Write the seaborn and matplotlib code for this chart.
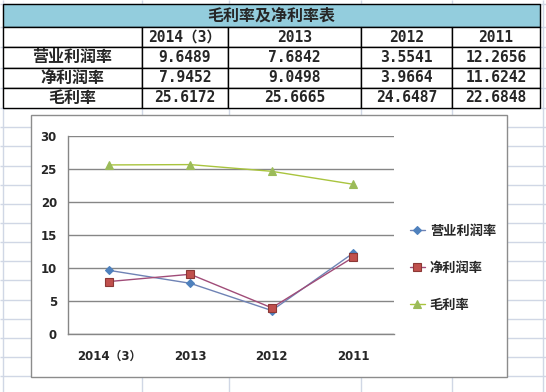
import numpy as np
import pandas as pd
import seaborn as sns
import matplotlib.pyplot as plt
from matplotlib.patches import Rectangle
from matplotlib.ticker import FixedLocator

# Data
TITLE = "毛利率及净利率表"
PERIODS = ["2014（3）", "2013", "2012", "2011"]
SERIES = ["营业利润率", "净利润率", "毛利率"]
OP_MARGIN = [9.6489, 7.6842, 3.5541, 12.2656]
NET_MARGIN = [7.9452, 9.0498, 3.9664, 11.6242]
GROSS_MARGIN = [25.6172, 25.6665, 24.6487, 22.6848]

# Styling
LINE_COLORS = ["#6F83B5", "#A04C78", "#A9C43E"]
FACE_COLORS = ["#4F81BD", "#C0504D", "#9BBB59"]
EDGE_COLORS = ["#4F81BD", "#8C3836", "#9BBB59"]
MARKERS = ["D", "s", "^"]
MARKER_SIZES = [4.5, 6.0, 6.0]
GRID = "#868686"
SHEET = "#D0D7E5"
CJK = ["Noto Sans CJK SC", "DejaVu Sans"]
NUM = ["DejaVu Sans", "Noto Sans CJK SC"]
MONO = ["DejaVu Sans Mono", "Noto Sans CJK SC"]

# Layout (pixels)
W, H = 546, 392
TABLE_X = [3, 142, 228, 361, 452, 540]
TABLE_Y = [4, 27, 108]
SHEET_X = [3, 142, 229, 361, 452, 543]
SHEET_Y = [4, 27, 47, 68, 88, 108] + list(np.arange(127.2, H, 19.15))

sns.set_style("white")
plt.rcParams["font.family"] = CJK

fig = plt.figure(figsize=(W / 100, H / 100), dpi=100)
fig.patch.set_facecolor("white")

# background layer in pixel coordinates: sheet grid, table, chart frame
bg = fig.add_axes([0, 0, 1, 1], zorder=-1)
bg.set_xlim(0, W)
bg.set_ylim(H, 0)
bg.axis("off")
bg.vlines(SHEET_X, 0, H, color=SHEET, lw=1, zorder=0)
bg.hlines(SHEET_Y, 0, W, color=SHEET, lw=1, zorder=0)

# title row
bg.add_patch(Rectangle((TABLE_X[0], TABLE_Y[0]), TABLE_X[-1] - TABLE_X[0],
                       TABLE_Y[1] - TABLE_Y[0], facecolor="#93CDDD",
                       edgecolor="black", lw=1, zorder=2))
bg.text((TABLE_X[0] + TABLE_X[-1]) / 2, (TABLE_Y[0] + TABLE_Y[1]) / 2 + 0.5,
        TITLE, ha="center", va="center", fontsize=11.5, fontweight="bold",
        family=CJK, zorder=3)

cell_text = [[""] + PERIODS]
for name, vals in zip(SERIES, [OP_MARGIN, NET_MARGIN, GROSS_MARGIN]):
    cell_text.append([name] + [f"{v:.4f}" for v in vals])

widths = np.diff(TABLE_X)
tbl = bg.table(
    cellText=cell_text,
    cellLoc="center",
    colWidths=list(widths / widths.sum()),
    bbox=[TABLE_X[0] / W, 1 - TABLE_Y[2] / H,
          (TABLE_X[-1] - TABLE_X[0]) / W, (TABLE_Y[2] - TABLE_Y[1]) / H],
    zorder=2,
)
tbl.auto_set_font_size(False)
for (r, c), cell in tbl.get_celld().items():
    cell.set_edgecolor("black")
    cell.set_linewidth(1)
    cell.set_facecolor("white")
    if c == 0:
        cell.set_text_props(fontsize=11.5, fontweight="bold", family=CJK)
    else:
        cell.set_text_props(fontsize=10.5, fontweight="bold", family=MONO)

# chart frame
bg.add_patch(Rectangle((31, 115), 476, 262, facecolor="white",
                       edgecolor="#8C8C8C", lw=1, zorder=4))

# chart
ax = fig.add_axes([68 / W, 1 - 334 / H, 326 / W, 198 / H], zorder=2)
ax.patch.set_alpha(0)

df = pd.DataFrame({
    "period": PERIODS * 3,
    "value": OP_MARGIN + NET_MARGIN + GROSS_MARGIN,
    "series": np.repeat(SERIES, len(PERIODS)),
})
sns.pointplot(data=df, x="period", y="value", hue="series", order=PERIODS,
              hue_order=SERIES, palette=LINE_COLORS, markers=MARKERS,
              linestyles="-", errorbar=None, linewidth=1, legend=False, ax=ax)

handles = [ln for ln in ax.lines if ln.get_marker() not in (None, "None", "")]
for ln, fc, ec, ms in zip(handles, FACE_COLORS, EDGE_COLORS, MARKER_SIZES):
    ln.set_markerfacecolor(fc)
    ln.set_markeredgecolor(ec)
    ln.set_markersize(ms)
    ln.set_markeredgewidth(0.8)

ax.set_xlim(-0.5, len(PERIODS) - 0.5)
ax.set_ylim(0, 30)
ax.set_yticks(range(0, 31, 5))
ax.set_xticks(range(len(PERIODS)), PERIODS)
ax.xaxis.set_minor_locator(FixedLocator(np.arange(-0.5, len(PERIODS), 1)))
ax.set_xlabel("")
ax.set_ylabel("")
ax.yaxis.grid(True, color=GRID, lw=1)
ax.set_axisbelow(True)
for side in ["top", "right"]:
    ax.spines[side].set_visible(False)
for side in ["left", "bottom"]:
    ax.spines[side].set_color(GRID)
    ax.spines[side].set_linewidth(1)
ax.tick_params(axis="x", which="major", length=0, pad=11.5)
ax.tick_params(axis="x", which="minor", length=4, color=GRID, direction="out")
ax.tick_params(axis="y", length=3, color=GRID, direction="out", pad=5)
for lbl in ax.get_xticklabels() + ax.get_yticklabels():
    lbl.set_family(NUM)
    lbl.set_fontweight("bold")
    lbl.set_fontsize(8.5)

ax.legend(handles, SERIES, loc="center left",
          bbox_to_anchor=(410 / W, 1 - 268 / H), bbox_transform=fig.transFigure,
          frameon=False, prop={"family": CJK, "weight": "bold", "size": 9.5},
          handlelength=1.1, handletextpad=0.4, labelspacing=1.75, borderpad=0,
          borderaxespad=0)

fig.savefig("out.png", dpi=100)
